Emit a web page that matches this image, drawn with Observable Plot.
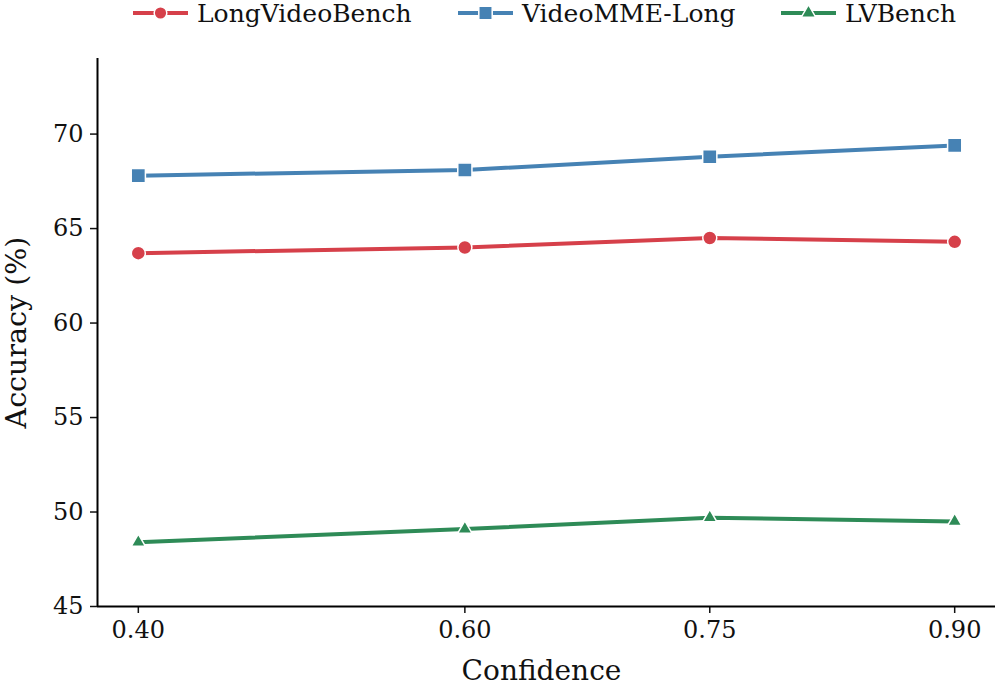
<!DOCTYPE html>
<html>
<head>
<meta charset="utf-8">
<script src="https://cdn.jsdelivr.net/npm/d3@7"></script>
<script src="https://cdn.jsdelivr.net/npm/@observablehq/plot@0.6"></script>
<style>
  html, body { margin: 0; padding: 0; background: #fff; }
  #wrap { position: relative; width: 997px; height: 690px; }
  #legend { position: absolute; left: 0; top: 0; height: 26px; width: 997px; font-family: "DejaVu Serif"; font-size: 25px; color: #111; z-index: 2; }
  .item { position: absolute; top: 0; height: 26px; display: flex; align-items: center; white-space: nowrap; }
  .item svg { margin-right: 9px; }
  #chart svg text { font-family: "DejaVu Serif" !important; }
</style>
</head>
<body>
<div id="wrap">
<div id="chart"></div>
<div id="legend"></div>
</div>
<script>
const confidence = [0.40, 0.60, 0.75, 0.90];
const seriesNames = ["LongVideoBench", "VideoMME-Long", "LVBench"];
const longVideoBench = [63.7, 64.0, 64.5, 64.3];
const videoMMELong = [67.8, 68.1, 68.8, 69.4];
const lvBench = [48.4, 49.1, 49.7, 49.5];
const yTicks = [45, 50, 55, 60, 65, 70];
const xLabel = "Confidence";
const yLabel = "Accuracy (%)";
const seriesColors = ["#d6404a", "#4682b4", "#2e8b57"];
const seriesSymbols = ["circle", "square", "triangle"];
const symbolRadius = [7, 8, 5.3];

const seriesValues = [longVideoBench, videoMMELong, lvBench];
const data = seriesNames.flatMap((name, i) =>
  confidence.map((c, j) => ({series: name, x: c, y: seriesValues[i][j]})));

const marks = [];
seriesNames.forEach((name, i) => {
  const d = data.filter(r => r.series === name);
  marks.push(Plot.line(d, {x: "x", y: "y", stroke: seriesColors[i], strokeWidth: 4}));
});
seriesNames.forEach((name, i) => {
  const d = data.filter(r => r.series === name);
  marks.push(Plot.dot(d, {x: "x", y: "y", fill: seriesColors[i], stroke: "white", strokeWidth: 1.5,
    symbol: () => seriesSymbols[i], r: symbolRadius[i]}));
});

const serif = "DejaVu Serif";
const chart = Plot.plot({
  width: 997,
  height: 690,
  marginLeft: 97,
  marginRight: 2,
  marginTop: 58,
  marginBottom: 84,
  style: {fontFamily: serif, fontSize: "24px", color: "#111", background: "white"},
  symbol: {domain: seriesSymbols, range: seriesSymbols},
  x: {domain: [0.375, 0.925]},
  y: {domain: [45, 74]},
  marks: [
    Plot.axisX({ticks: confidence, tickFormat: d3.format(".2f"), tickSize: 7, tickPadding: 7, strokeWidth: 1.5,
      label: null, fontFamily: serif, fontSize: 24, fontVariant: "normal"}),
    Plot.axisY({ticks: yTicks, tickSize: 7, tickPadding: 7, strokeWidth: 1.5,
      label: null, fontFamily: serif, fontSize: 24, fontVariant: "normal"}),
    Plot.text([xLabel], {frameAnchor: "bottom", dy: 65, dx: -5, fontSize: 28, textAnchor: "middle", lineAnchor: "middle", fontFamily: serif}),
    Plot.text([yLabel], {frameAnchor: "left", dx: -81, rotate: -90, fontSize: 28.5, textAnchor: "middle", lineAnchor: "middle", fontFamily: serif}),
    Plot.ruleY([45], {stroke: "black", strokeWidth: 2}),
    Plot.ruleX([0.375], {stroke: "black", strokeWidth: 2}),
    ...marks
  ]
});
document.getElementById("chart").appendChild(chart);

// legend
const legend = document.getElementById("legend");
const legendLeft = [133, 458, 781];
seriesNames.forEach((name, i) => {
  const item = document.createElement("div");
  item.className = "item";
  item.style.left = legendLeft[i] + "px";
  const sym = d3.symbol().type(i === 0 ? d3.symbolCircle : i === 1 ? d3.symbolSquare : d3.symbolTriangle)
    .size(i === 0 ? Math.PI * 40 : i === 1 ? 180 : 90)();
  item.innerHTML = `<svg width="55" height="22"><line x1="0" x2="55" y1="11" y2="11" stroke="${seriesColors[i]}" stroke-width="4"/>`
    + `<path d="${sym}" transform="translate(27.5,11)" fill="${seriesColors[i]}" stroke="white" stroke-width="1.5"/></svg>`;
  const span = document.createElement("span");
  span.textContent = name;
  item.appendChild(span);
  legend.appendChild(item);
});
</script>
</body>
</html>
